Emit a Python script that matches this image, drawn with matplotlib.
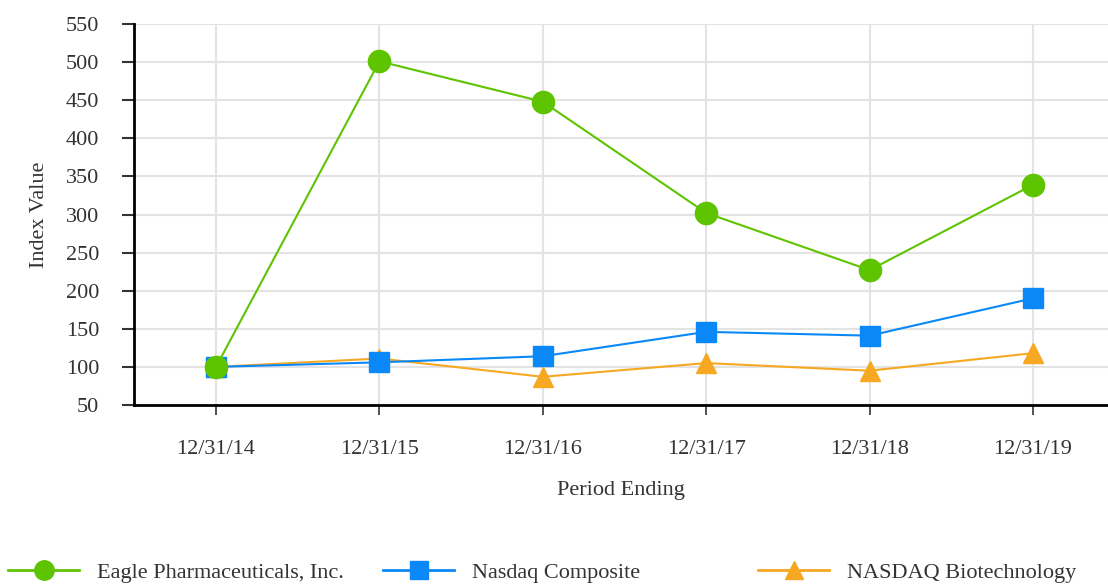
import matplotlib
matplotlib.use("Agg")
import matplotlib.pyplot as plt
from matplotlib.lines import Line2D

periods = ["12/31/14", "12/31/15", "12/31/16", "12/31/17", "12/31/18", "12/31/19"]
eagle = [100, 501, 448, 302, 227, 339]
nasdaq = [100, 106, 114, 146, 141, 190]
biotech = [100, 111, 87, 105, 95, 118]

green = "#5ec400"
blue = "#0a88f7"
orange = "#f7a823"

plt.rcParams["font.family"] = ["Liberation Serif", "DejaVu Serif"]
plt.rcParams["font.size"] = 16

fig = plt.figure(figsize=(11.08, 5.85), dpi=100)
ax = fig.add_axes([134 / 1108, 1 - 405 / 585, 1 - 134 / 1108, (405 - 24) / 585])

x = list(range(len(periods)))
ax.plot(x, biotech, color=orange, lw=1.5, marker="^", ms=15, mec=orange, label="NASDAQ Biotechnology", zorder=3)
ax.plot(x, nasdaq, color=blue, lw=1.5, marker="s", ms=14, mec=blue, label="Nasdaq Composite", zorder=4)
ax.plot(x, eagle, color=green, lw=1.5, marker="o", ms=16, mec=green, label="Eagle Pharmaceuticals, Inc.", zorder=5)

ax.set_xlim(-0.502, 5.459)
ax.set_ylim(50, 550)
ax.set_yticks(range(50, 551, 50))
ax.set_xticks(x)
ax.set_xticklabels(periods)
ax.grid(True, color="#e3e3e3", lw=1.5)
ax.set_axisbelow(True)

for s in ["top", "right"]:
    ax.spines[s].set_visible(False)
ax.spines["left"].set_linewidth(2)
ax.spines["bottom"].set_linewidth(2)
ax.tick_params(axis="y", length=9, width=1.5, pad=16, colors="#333333")
ax.tick_params(axis="x", length=7, width=1.2, pad=18, colors="#333333")

ax.set_ylabel("Index Value", color="#333333", labelpad=12)
ax.set_xlabel("Period Ending", color="#333333", labelpad=16)

handles = {
    "Eagle Pharmaceuticals, Inc.": Line2D([], [], color=green, lw=2, marker="o", ms=14, mec=green),
    "Nasdaq Composite": Line2D([], [], color=blue, lw=2, marker="s", ms=13, mec=blue),
    "NASDAQ Biotechnology": Line2D([], [], color=orange, lw=2, marker="^", ms=13, mec=orange),
}
for i, (name, h) in enumerate(handles.items()):
    fig.legend([h], [name], loc="center left", bbox_to_anchor=((8 + 375 * i) / 1108, 1 - 573 / 585),
               frameon=False, handlelength=3.2, handletextpad=0.8, borderpad=0, borderaxespad=0,
               labelcolor="#333333", fontsize=16)

plt.savefig("out.png")
